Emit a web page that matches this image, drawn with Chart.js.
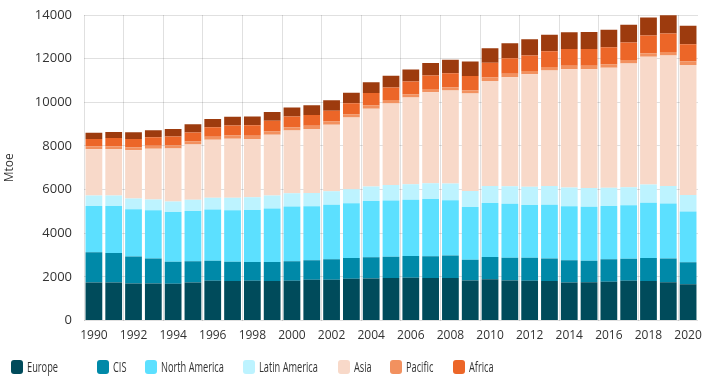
<!DOCTYPE html>
<html>
<head>
<meta charset="utf-8">
<script src="https://cdn.jsdelivr.net/npm/chart.js@4/dist/chart.umd.min.js"></script>
<style>
  html, body { margin: 0; padding: 0; background: #fff; overflow: hidden; }
  #wrap { position: relative; width: 717px; height: 387px; }
  #c { position: absolute; left: 0; top: 0; }
  .lg { position: absolute; top: 360px; height: 14px; font-family: "Open Sans", sans-serif; font-size: 14px; color: #333; white-space: nowrap; }
  .lg .bx { position: absolute; left: 0; top: 0; width: 12px; height: 14px; border-radius: 3px; }
  .lg .tx { position: absolute; left: 16px; top: -3px; line-height: 19px; transform: scaleX(0.66); transform-origin: 0 50%; }
</style>
</head>
<body>
<div id="wrap">
  <canvas id="c" width="717" height="387"></canvas>
  <div id="legend"></div>
</div>
<script>
const years = [1990,1991,1992,1993,1994,1995,1996,1997,1998,1999,2000,2001,2002,2003,2004,2005,2006,2007,2008,2009,2010,2011,2012,2013,2014,2015,2016,2017,2018,2019,2020];
const yTicks = [0,2000,4000,6000,8000,10000,12000,14000];

const europe = [1750,1750,1700,1700,1690,1750,1820,1810,1820,1810,1820,1870,1870,1920,1930,1950,1960,1950,1950,1840,1900,1840,1820,1810,1750,1760,1780,1820,1810,1760,1660];
const cis = [1380,1350,1240,1150,1010,970,920,890,870,870,900,900,940,950,970,970,1000,1000,1030,950,1010,1040,1060,1030,1010,980,1030,1010,1060,1090,1010];
const northAmerica = [2120,2150,2160,2210,2270,2300,2350,2360,2380,2450,2510,2470,2500,2510,2580,2580,2580,2620,2530,2410,2480,2470,2420,2470,2480,2470,2440,2450,2530,2510,2330];
const latinAmerica = [480,480,490,490,490,520,540,570,580,600,600,600,610,640,660,710,710,720,770,740,780,800,830,860,860,860,840,830,830,810,750];
const asia = [2120,2130,2210,2320,2420,2530,2650,2700,2670,2780,2880,2940,3050,3280,3560,3740,3970,4170,4260,4460,4810,5000,5150,5290,5410,5440,5490,5670,5860,5980,5960];
const pacific = [130,130,135,135,140,140,145,145,145,150,150,150,150,150,155,155,155,155,155,150,155,155,160,160,160,160,160,160,160,160,155];
const africa = [340,370,380,400,410,410,430,460,490,490,490,490,490,510,570,570,580,610,640,660,680,710,710,720,770,770,780,800,810,840,800];
const middleEast = [280,280,310,320,350,380,380,400,400,410,410,450,480,480,490,540,550,580,610,660,660,690,740,750,770,780,810,810,830,840,840];

const series = [
  { label: 'Europe', data: europe, color: '#004B5B', legend: true, lx: 11 },
  { label: 'CIS', data: cis, color: '#0089A8', legend: true, lx: 97 },
  { label: 'North America', data: northAmerica, color: '#5CE0FF', legend: true, lx: 145 },
  { label: 'Latin America', data: latinAmerica, color: '#BDF3FF', legend: true, lx: 243 },
  { label: 'Asia', data: asia, color: '#F8D9C9', legend: true, lx: 338 },
  { label: 'Pacific', data: pacific, color: '#F2915F', legend: true, lx: 390 },
  { label: 'Africa', data: africa, color: '#EC6628', legend: true, lx: 453 },
  { label: 'Middle East', data: middleEast, color: '#9D3B0E', legend: false }
];

const lg = document.getElementById('legend');
series.filter(s => s.legend).forEach(s => {
  const d = document.createElement('div');
  d.className = 'lg';
  d.style.left = s.lx + 'px';
  d.innerHTML = '<span class="bx" style="background:' + s.color + '"></span><span class="tx">' + s.label + '</span>';
  lg.appendChild(d);
});

const gridColor = 'rgba(0,0,0,0.12)';

new Chart(document.getElementById('c'), {
  type: 'bar',
  data: {
    labels: years.map(String),
    datasets: series.map(s => ({
      label: s.label,
      data: s.data,
      backgroundColor: s.color,
      borderWidth: 0,
      categoryPercentage: 0.92,
      barPercentage: 0.92
    }))
  },
  options: {
    responsive: false,
    animation: false,
    devicePixelRatio: 1,
    layout: { padding: { left: 0, right: 19, top: 15, bottom: 36 } },
    plugins: { legend: { display: false }, tooltip: { enabled: false } },
    scales: {
      x: {
        stacked: true,
        border: { display: false },
        grid: {
          offset: true,
          drawTicks: false,
          color: ctx => (ctx.index % 2 === 0 || ctx.index === years.length) ? gridColor : 'rgba(0,0,0,0)',
          lineWidth: 1
        },
        ticks: {
          autoSkip: false,
          maxRotation: 0,
          padding: 8,
          color: '#333',
          font: { family: 'Open Sans', size: 12 },
          callback: (v, i) => (i % 2 === 0 ? String(years[i]) : '')
        }
      },
      y: {
        stacked: true,
        min: 0,
        max: 14000,
        afterBuildTicks: s => { s.ticks = yTicks.map(v => ({ value: v })); },
        afterFit: s => { s.width = 84; },
        border: { display: false },
        grid: { color: gridColor, drawTicks: false },
        ticks: {
          padding: 12,
          color: '#333',
          font: { family: 'Open Sans', size: 13, lineHeight: 0.2 },
          callback: v => String(v)
        },
        title: {
          display: true,
          text: 'Mtoe',
          color: '#333',
          padding: { top: 2, bottom: 0 },
          font: { family: 'Open Sans', size: 12 }
        }
      }
    }
  }
});
</script>
</body>
</html>
